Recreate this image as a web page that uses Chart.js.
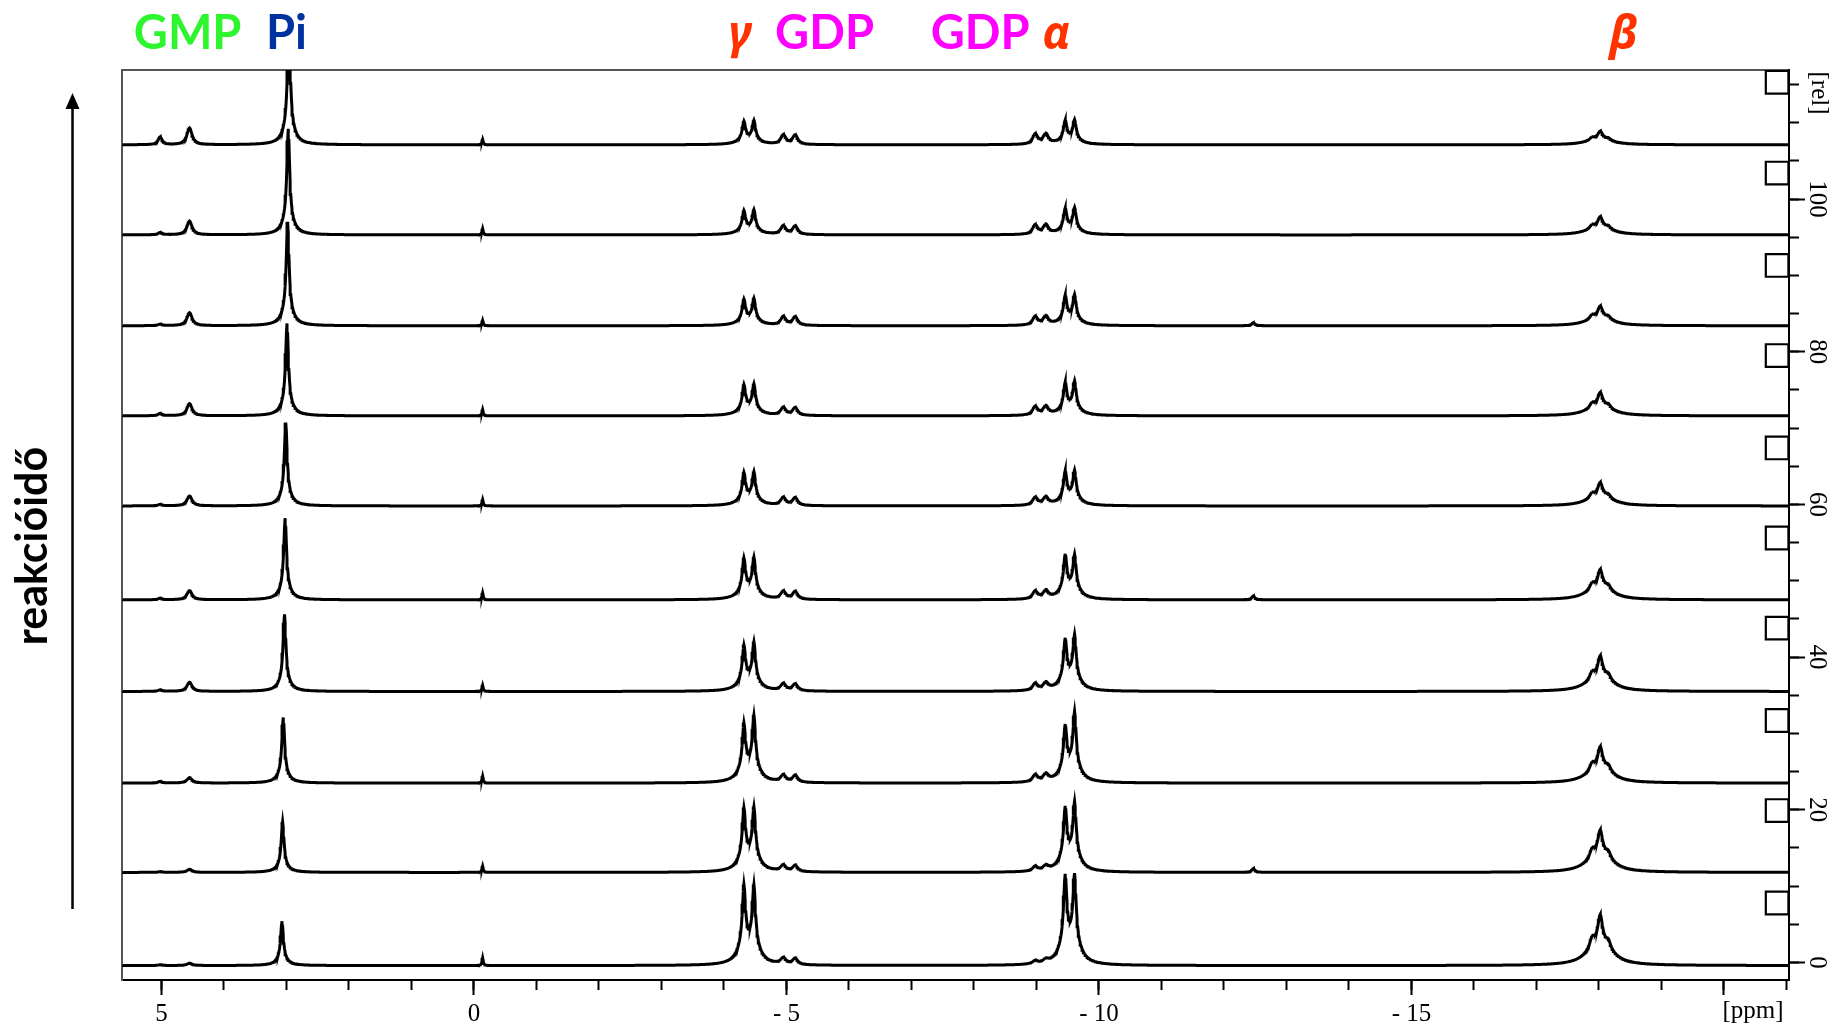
<!DOCTYPE html>
<html><head><meta charset="utf-8">
<script src="https://cdn.jsdelivr.net/npm/chart.js@4/dist/chart.umd.min.js"></script>
<style>html,body{margin:0;padding:0;background:#fff;overflow:hidden}#wrap{width:1833px;height:1026px;position:relative}</style>
</head><body><div id="wrap"><canvas id="c" width="1833" height="1026"></canvas></div>
<script>
// ---------------- DATA ----------------
// axis ranges
const X_MIN = -21.04, X_MAX = 5.63;      // ppm (axis reversed)
const Y_MIN = -2.29,  Y_MAX = 116.9;     // [rel]
const xMajorTicks = [5, 0, -5, -10, -15, -20];
const xTickLabels = ['5', '0', '- 5', '- 10', '- 15', ''];
const yMajorTicks = [0, 20, 40, 60, 80, 100];
const yTickLabels = ['0', '20', '40', '60', '80', '100'];

// stacked traces, bottom (earliest) to top (latest)
const traceOffsets = [-0.4, 11.8, 23.5, 35.5, 47.5, 59.8, 71.6, 83.4, 95.3, 107.1];
const markerLevels = [7.8, 19.9, 31.7, 43.8, 55.6, 67.4, 79.5, 91.3, 103.4, 115.3];

// peak positions (ppm)
const gmpPpm = 4.55, gmpSidePpm = 5.02;
const piPpm = [3.07, 3.06, 3.05, 3.03, 3.02, 3.01, 2.99, 2.98, 2.97, 2.96];
const spikePpm = -0.14;
const gammaPpm = [-4.32, -4.48];
const gdpBetaPpm = [-4.95, -5.14];
const gdpAlphaPpm = [-8.98, -9.15];
const alphaPpm = [-9.46, -9.61];
const minorPpm = -12.47;
const betaPpm = [-17.89, -18.02, -18.15];

// peak heights per trace (rel units above each trace's baseline)
const gmpHeight      = [0.3, 0.4, 0.7, 1.2, 1.2, 1.3, 1.6, 1.7, 1.8, 2.2];
const gmpSideHeight  = [0.1, 0.1, 0.2, 0.2, 0.2, 0.2, 0.3, 0.2, 0.3, 1.0];
const piHeight       = [5.8, 6.6, 8.6, 10.1, 10.7, 10.9, 12.1, 13.6, 13.9, 16.0];
const spikeHeight    = [1.0, 0.8, 0.9, 0.8, 0.9, 0.8, 0.8, 0.7, 0.8, 0.7];
const gammaLeft      = [10.6, 8.5, 7.9, 6.1, 5.5, 4.4, 4.1, 3.5, 3.2, 3.1];
const gammaRight     = [10.6, 8.6, 8.9, 6.5, 5.6, 4.5, 4.2, 3.6, 3.3, 3.2];
const gdpBetaHeight  = [0.8, 0.8, 0.9, 0.9, 1.0, 1.0, 1.0, 1.1, 1.1, 1.2];
const gdpAlphaHeight = [0.4, 0.6, 0.9, 0.9, 1.0, 1.0, 1.1, 1.1, 1.2, 1.3];
const alphaLeft      = [12.0, 8.7, 7.7, 7.0, 6.0, 4.6, 4.4, 4.0, 3.5, 3.2];
const alphaRight     = [12.1, 9.3, 9.4, 7.5, 6.0, 4.7, 4.6, 4.1, 3.6, 3.3];
const minorHeight    = [0.0, 0.5, 0.0, 0.0, 0.5, 0.0, 0.0, 0.4, 0.0, 0.0];
const betaHeight     = [6.7, 5.6, 4.8, 4.7, 4.0, 3.1, 3.1, 2.6, 2.4, 1.8];

// annotation labels above the plot
const topLabels = ['GMP', 'Pi', 'γ', 'GDP', 'GDP', 'α', 'β'];
const topLabelAt = [4.58, 3.0, -4.26, -5.61, -8.10, -9.32, -18.39];
const topLabelColors = ['#2EF52E', '#0033A0', '#FF3300', '#FF00FF', '#FF00FF', '#FF3300', '#FF3300'];
const topLabelItalic = [false, false, true, false, false, true, true];
const sideLabel = 'reakcióidő';

// ---------------- line shapes ----------------
function lor(x, x0, hw) { const d = (x - x0) / hw; return 1 / (1 + d * d); }
function sharp(x, x0, hw, broad, bw) { return (1 - broad) * lor(x, x0, hw) + broad * lor(x, x0, bw); }
function fitAmps(pos, targets, shape) {
  let a = targets.slice();
  for (let it = 0; it < 8; it++) {
    const app = pos.map(p => pos.reduce((s, q, j) => s + a[j] * shape(p, q), 0));
    a = a.map((v, i) => app[i] > 0 ? v * targets[i] / app[i] : 0);
  }
  return a;
}
const dShape = (x, x0) => sharp(x, x0, 0.03, 0.22, 0.12);
const piShape = (x, x0) => sharp(x, x0, 0.026, 0.15, 0.1);
const smallShape = (x, x0) => lor(x, x0, 0.05);
const betaShape = (x, x0) => sharp(x, x0, 0.045, 0.35, 0.2);

const grid = [];
for (let i = 0; ; i++) { const v = X_MIN + i * 0.01; if (v > X_MAX) break; grid.push(v); }

function buildTrace(k) {
  const gA = fitAmps(gammaPpm, [gammaLeft[k], gammaRight[k]], dShape);
  const aA = fitAmps(alphaPpm, [alphaLeft[k], alphaRight[k]], dShape);
  const bA = fitAmps(betaPpm, [0.58 * betaHeight[k], betaHeight[k], 0.52 * betaHeight[k]], betaShape);
  const pA = fitAmps([piPpm[k]], [piHeight[k]], piShape);
  return grid.map(x => {
    let y = traceOffsets[k];
    y += gmpHeight[k] * smallShape(x, gmpPpm) + gmpSideHeight[k] * lor(x, gmpSidePpm, 0.04);
    y += pA[0] * piShape(x, piPpm[k]);
    y += spikeHeight[k] * lor(x, spikePpm, 0.012);
    y += gA[0] * dShape(x, gammaPpm[0]) + gA[1] * dShape(x, gammaPpm[1]);
    y += gdpBetaHeight[k] * (smallShape(x, gdpBetaPpm[0]) + smallShape(x, gdpBetaPpm[1]));
    y += gdpAlphaHeight[k] * (smallShape(x, gdpAlphaPpm[0]) + smallShape(x, gdpAlphaPpm[1]));
    y += aA[0] * dShape(x, alphaPpm[0]) + aA[1] * dShape(x, alphaPpm[1]);
    y += minorHeight[k] * lor(x, minorPpm, 0.03);
    y += bA[0] * betaShape(x, betaPpm[0]) + bA[1] * betaShape(x, betaPpm[1]) + bA[2] * betaShape(x, betaPpm[2]);
    return { x: x, y: y };
  });
}

const datasets = traceOffsets.map((o, k) => ({
  type: 'line', data: buildTrace(k), borderColor: '#000', borderWidth: 3,
  pointRadius: 0, tension: 0, fill: false, xAxisID: 'x', yAxisID: 'y', order: 2
}));
datasets.push({
  type: 'scatter', data: markerLevels.map(v => ({ x: X_MIN + 0.19, y: v })),
  pointStyle: 'rect', pointRadius: 16, borderColor: '#000', borderWidth: 2.2,
  backgroundColor: 'rgba(0,0,0,0)', xAxisID: 'x', yAxisID: 'y', order: 1
});

// ---------------- annotations plugin ----------------
const annot = {
  id: 'annot',
  afterDraw(chart) {
    const ctx = chart.ctx, xs = chart.scales.x, ca = chart.chartArea;
    ctx.save();
    // top labels
    ctx.textBaseline = 'alphabetic'; ctx.textAlign = 'center';
    topLabels.forEach((t, i) => {
      ctx.fillStyle = topLabelColors[i];
      ctx.font = (topLabelItalic[i] ? 'italic bold 46px "Noto Sans", "DejaVu Sans"' : 'bold 47px Lato, "Open Sans", sans-serif');
      ctx.fillText(t, xs.getPixelForValue(topLabelAt[i]), 49);
    });
    // [ppm]
    ctx.fillStyle = '#000';
    ctx.font = '25px "Liberation Serif", serif';
    ctx.textBaseline = 'top';
    ctx.fillText('[ppm]', 1753, ca.bottom + 19);
    // [rel]
    ctx.save();
    ctx.translate(1819, 93);
    ctx.rotate(Math.PI / 2);
    ctx.textBaseline = 'middle'; ctx.textAlign = 'center';
    ctx.fillText('[rel]', 0, 0);
    ctx.restore();
    // arrow
    ctx.strokeStyle = '#000'; ctx.lineWidth = 2.5;
    ctx.beginPath(); ctx.moveTo(72.5, 909); ctx.lineTo(72.5, 105); ctx.stroke();
    ctx.beginPath(); ctx.moveTo(72.5, 93); ctx.lineTo(65.5, 109); ctx.lineTo(79.5, 109); ctx.closePath();
    ctx.fillStyle = '#000'; ctx.fill();
    // side label
    ctx.save();
    ctx.translate(33, 546);
    ctx.rotate(-Math.PI / 2);
    ctx.textAlign = 'center'; ctx.textBaseline = 'middle';
    ctx.font = 'bold 43px Lato, "Open Sans", sans-serif';
    ctx.fillText(sideLabel, 0, 0);
    ctx.restore();
    ctx.restore();
  }
};

const serif = { family: '"Liberation Serif", "Times New Roman", serif', size: 25 };
new Chart(document.getElementById('c'), {
  type: 'line',
  data: { datasets: datasets },
  options: {
    responsive: false, animation: false, devicePixelRatio: 1,
    layout: { padding: { left: 122, top: 70, right: 0, bottom: 0 } },
    plugins: { legend: { display: false }, tooltip: { enabled: false } },
    scales: {
      x: {
        type: 'linear', position: 'bottom', reverse: true, min: X_MIN, max: X_MAX, weight: 1,
        afterBuildTicks: s => { s.ticks = xMajorTicks.map(v => ({ value: v })); },
        afterFit: s => { s.height = 46; },
        ticks: { autoSkip: false, maxRotation: 0, padding: 4, color: '#000', font: serif,
          callback: v => { const i = xMajorTicks.indexOf(v); return i >= 0 ? xTickLabels[i] : ''; } },
        grid: { drawOnChartArea: false, tickLength: 15, tickWidth: 2, tickColor: '#000' },
        border: { display: true, color: '#000', width: 2 }
      },
      xMinor: {
        type: 'linear', position: 'bottom', reverse: true, min: X_MIN, max: X_MAX, weight: 0,
        afterBuildTicks: s => { const t = []; for (let v = -21; v <= 5; v++) t.push({ value: v }); s.ticks = t; },
        afterFit: s => { s.height = 0; },
        ticks: { display: false },
        grid: { drawOnChartArea: false, tickLength: 10, tickWidth: 2, tickColor: '#000' },
        border: { display: false }
      },
      xTop: {
        type: 'linear', position: 'top', min: X_MIN, max: X_MAX,
        afterFit: s => { s.height = 0; },
        ticks: { display: false }, grid: { display: false },
        border: { display: true, color: '#555', width: 2 }
      },
      y: {
        type: 'linear', position: 'right', min: Y_MIN, max: Y_MAX, weight: 1,
        afterBuildTicks: s => { s.ticks = yMajorTicks.map(v => ({ value: v })); },
        afterFit: s => { s.width = 44; },
        ticks: { autoSkip: false, minRotation: -90, maxRotation: -90, crossAlign: 'center', padding: -7, color: '#000', font: serif,
          callback: v => { const i = yMajorTicks.indexOf(v); return i >= 0 ? yTickLabels[i] : ''; } },
        grid: { drawOnChartArea: false, tickLength: 16, tickWidth: 2, tickColor: '#000' },
        border: { display: true, color: '#000', width: 2 }
      },
      yMinor: {
        type: 'linear', position: 'right', min: Y_MIN, max: Y_MAX, weight: 0,
        afterBuildTicks: s => { const t = []; for (let v = 0; v <= 115; v += 5) t.push({ value: v }); s.ticks = t; },
        afterFit: s => { s.width = 0; },
        ticks: { display: false },
        grid: { drawOnChartArea: false, tickLength: 10, tickWidth: 2, tickColor: '#000' },
        border: { display: false }
      },
      yLeft: {
        type: 'linear', position: 'left', min: Y_MIN, max: Y_MAX,
        afterFit: s => { s.width = 0; },
        ticks: { display: false }, grid: { display: false },
        border: { display: true, color: '#555', width: 2 }
      }
    }
  },
  plugins: [annot]
});
</script></body></html>
